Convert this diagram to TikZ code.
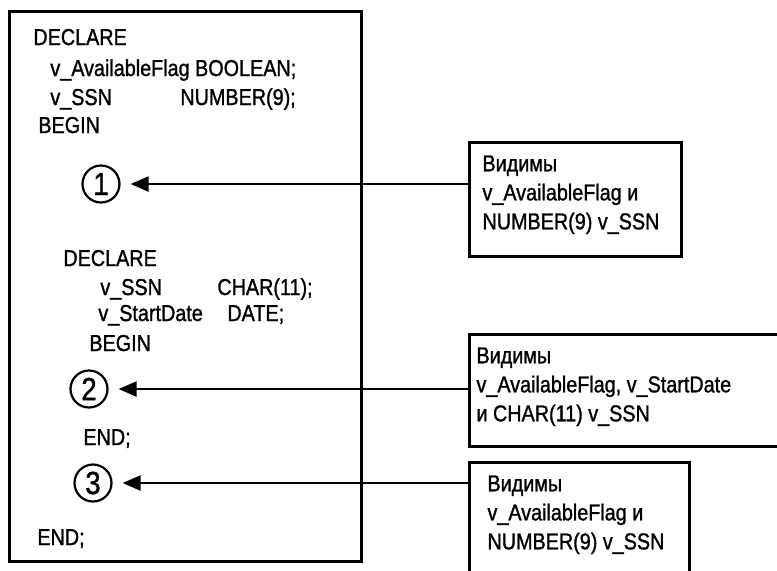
\documentclass[tikz,border=0pt]{standalone}
\usepackage{fontspec}
\setmainfont[FakeStretch=0.86,FakeBold=1.2]{Liberation Sans}
\usetikzlibrary{arrows.meta,calc}

\begin{document}
\begin{tikzpicture}[
    x=0.5pt, y=-0.5pt,
    code/.style={anchor=base west, inner sep=0pt, font=\fontsize{11.5}{14.5}\selectfont},
    frame/.style={draw, line width=1.5pt, anchor=north west, inner sep=0pt},
    spot/.style={circle, draw, line width=1.1pt, minimum size=18.5pt, inner sep=0pt, font=\fontsize{16}{16}\selectfont},
    note/.style={draw, line width=1.5pt, anchor=north west, inner xsep=6.5pt, inner ysep=6.5pt, font=\fontsize{11.5}{14.5}\selectfont},
    pointer/.style={-{Triangle[length=9pt,width=7.5pt]}, line width=1.2pt, shorten >=5pt}
]
    \path[use as bounding box] (0,0) rectangle (777,570);
    \clip (0,0) rectangle (777,570);

    % outer block
    \node[frame, minimum width=176pt, minimum height=275pt] (block) at (8,10) {};
    \node[code] (decl) at (33,45) {DECLARE};
    \node[code] (flag) at (50,76) {v\_AvailableFlag BOOLEAN;};
    \node[code] (ssn) at (50,105) {v\_SSN};
    \node[code] (ssnt) at (180,105) {NUMBER(9);};
    \node[code] (beg) at (38,133) {BEGIN};

    % inner block
    \node[code] (idecl) at (63,266) {DECLARE};
    \node[code] (issn) at (100,295) {v\_SSN};
    \node[code] (issnt) at (217,295) {CHAR(11);};
    \node[code] (start) at (98,321) {v\_StartDate};
    \node[code] (startt) at (227,321) {DATE;};
    \node[code] (ibeg) at (89,351) {BEGIN};
    \node[code] (iend) at (83,445) {END;};
    \node[code] (oend) at (37,545) {END;};

    % points
    \node[spot] (n1) at (101,184) {1};
    \node[spot] (n2) at (89,389) {2};
    \node[spot] (n3) at (93,483) {3};

    % notes
    \node[note] (b1) at (468,141)
        {\parbox[t][44pt][t]{93pt}{Видимы\\v\_AvailableFlag и\\NUMBER(9) v\_SSN}};
    \node[note, inner xsep=3.5pt] (b2) at (468,333)
        {\parbox[t][43pt][t]{155pt}{Видимы\\v\_AvailableFlag, v\_StartDate\\и CHAR(11) v\_SSN}};
    \node[note, inner xsep=9pt] (b3) at (468,461)
        {\parbox[t][60pt][t]{92pt}{Видимы\\v\_AvailableFlag и\\NUMBER(9) v\_SSN}};

    \draw[pointer] (b1.west |- n1) -- (n1);
    \draw[pointer] (b2.west |- n2) -- (n2);
    \draw[pointer] (b3.west |- n3) -- (n3);
\end{tikzpicture}
\end{document}
